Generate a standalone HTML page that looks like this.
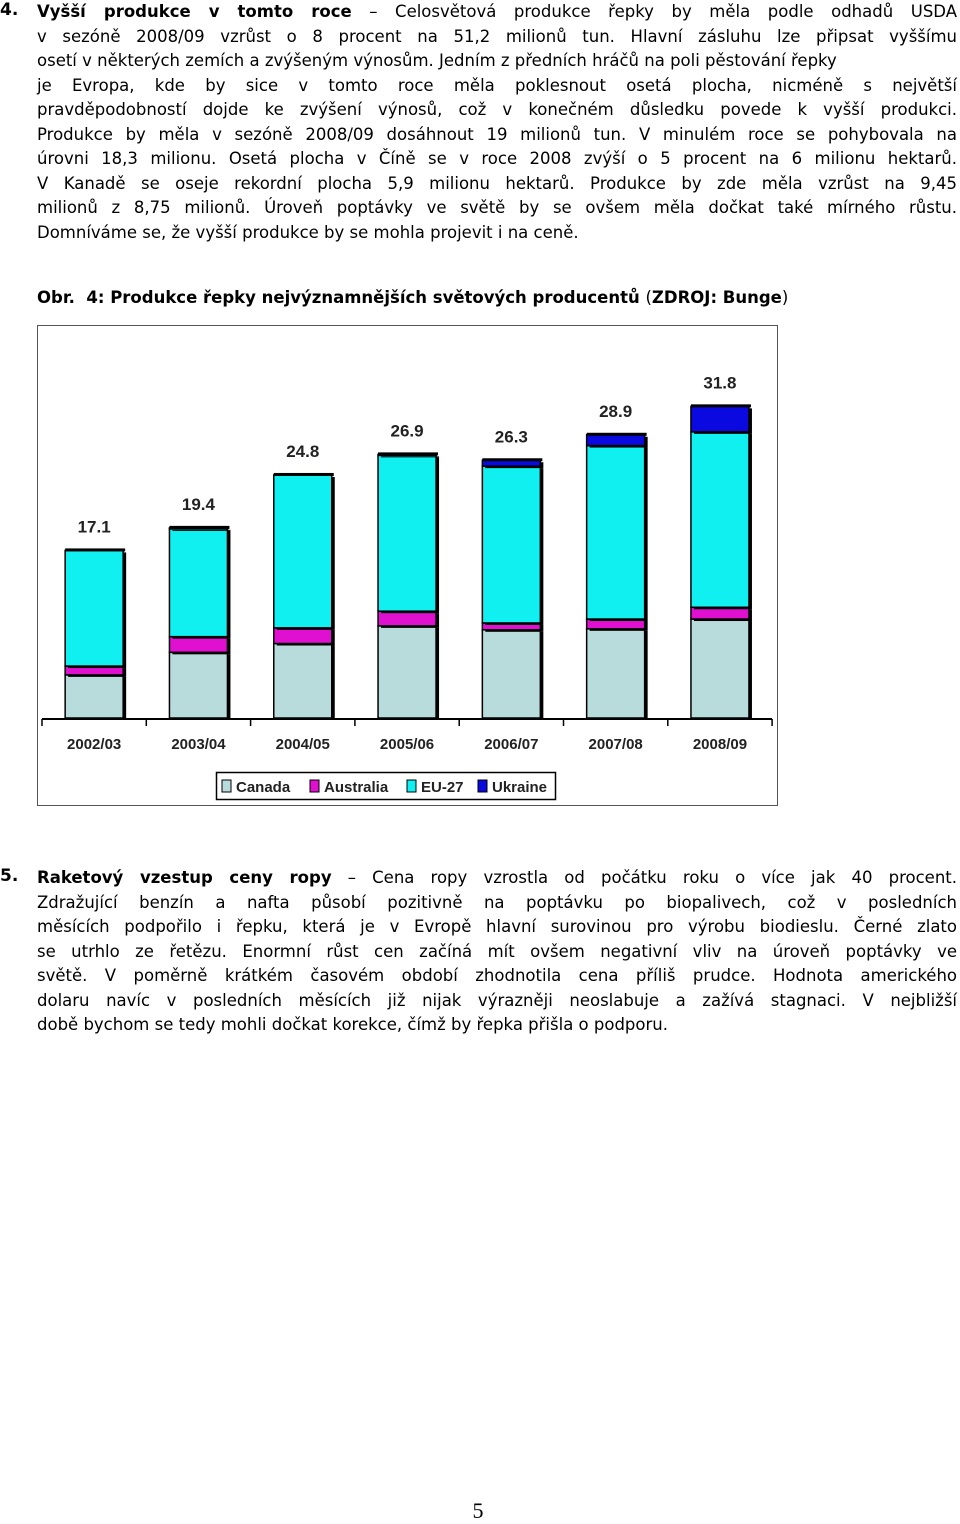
<!DOCTYPE html>
<html><head><meta charset="utf-8">
<style>
body{margin:0;width:960px;height:1523px;background:#fff;position:relative;overflow:hidden;font-family:"DejaVu Sans","Liberation Sans",sans-serif;color:#000}
.num{position:absolute;left:0;font-size:17px;font-weight:bold}
.para{position:absolute;left:37px;width:920px;font-size:16.5px;line-height:24.5px}
.ln{white-space:nowrap;text-align:justify;text-align-last:justify;height:24.5px;overflow:visible}
.ln.last{text-align-last:left}
b{font-weight:bold}
</style></head><body>
<div class="num" style="top:0">4.</div>
<div class="para" style="top:0">
<div class="ln"><b>Vyšší produkce v tomto roce</b> – Celosvětová produkce řepky by měla podle odhadů USDA</div>
<div class="ln">v sezóně 2008/09 vzrůst o 8 procent na 51,2 milionů tun. Hlavní zásluhu lze připsat vyššímu</div>
<div class="ln last">osetí v některých zemích a zvýšeným výnosům. Jedním z předních hráčů na poli pěstování řepky</div>
<div class="ln">je Evropa, kde by sice v tomto roce měla poklesnout osetá plocha, nicméně s největší</div>
<div class="ln">pravděpodobností dojde ke zvýšení výnosů, což v konečném důsledku povede k vyšší produkci.</div>
<div class="ln">Produkce by měla v sezóně 2008/09 dosáhnout 19 milionů tun. V minulém roce se pohybovala na</div>
<div class="ln">úrovni 18,3 milionu. Osetá plocha v Číně se v roce 2008 zvýší o 5 procent na 6 milionu hektarů.</div>
<div class="ln">V Kanadě se oseje rekordní plocha 5,9 milionu hektarů. Produkce by zde měla vzrůst na 9,45</div>
<div class="ln">milionů z 8,75 milionů. Úroveň poptávky ve světě by se ovšem měla dočkat také mírného růstu.</div>
<div class="ln last">Domníváme se, že vyšší produkce by se mohla projevit i na ceně.</div>
</div>
<div class="para" style="top:286px;font-weight:bold">Obr.&nbsp; 4: Produkce řepky nejvýznamnějších světových producentů <span style="font-weight:normal">(</span>ZDROJ: Bunge<span style="font-weight:normal">)</span></div>

<svg style="position:absolute;left:0;top:0" width="960" height="820">
<rect x="37.5" y="325.5" width="740" height="480" fill="#fff" stroke="#555" stroke-width="1"/>
<g id="bars"></g>
<line x1="42" y1="719" x2="772" y2="719" stroke="#000" stroke-width="2"/>
<g id="ticks"></g>
<g>
<rect x="216.5" y="772.5" width="339" height="27" fill="#fff" stroke="#000" stroke-width="1.5"/>
<g id="legend"></g>
</g>
</svg>

<div class="num" style="top:866px">5.</div>
<div class="para" style="top:866px">
<div class="ln"><b>Raketový vzestup ceny ropy</b> – Cena ropy vzrostla od počátku roku o více jak 40 procent.</div>
<div class="ln">Zdražující benzín a nafta působí pozitivně na poptávku po biopalivech, což v posledních</div>
<div class="ln">měsících podpořilo i řepku, která je v Evropě hlavní surovinou pro výrobu biodieslu. Černé zlato</div>
<div class="ln">se utrhlo ze řetězu. Enormní růst cen začíná mít ovšem negativní vliv na úroveň poptávky ve</div>
<div class="ln">světě. V poměrně krátkém časovém období zhodnotila cena příliš prudce. Hodnota amerického</div>
<div class="ln">dolaru navíc v posledních měsících již nijak výrazněji neoslabuje a zažívá stagnaci. V nejbližší</div>
<div class="ln last">době bychom se tedy mohli dočkat korekce, čímž by řepka přišla o podporu.</div>
</div>
<div style="position:absolute;left:0;width:956px;top:1498px;text-align:center;font-family:'Liberation Serif',serif;font-size:22px">5</div>

<script>
const categories=["2002/03","2003/04","2004/05","2005/06","2006/07","2007/08","2008/09"];
const canada=[4.4,6.7,7.6,9.4,9.0,9.1,10.1];
const australia=[0.9,1.6,1.6,1.5,0.7,1.0,1.2];
const eu27=[11.8,11.0,15.6,15.9,16.0,17.7,17.9];
const ukraine=[0.0,0.1,0.0,0.1,0.6,1.1,2.6];
const totals=["17.1","19.4","24.8","26.9","26.3","28.9","31.8"];
const seriesNames=["Canada","Australia","EU-27","Ukraine"];
const colors=["#b8dcdc","#e010d0","#10f0f0","#0a0ae0"];
const NS="http://www.w3.org/2000/svg";
const base=718, pxPerUnit=9.8, x0=42, step=104.3, bw=58;
const yS=v=>v*pxPerUnit;
const xC=i=>x0+step*(i+0.5);
function mk(tag,attrs,parent){const e=document.createElementNS(NS,tag);for(const k in attrs)e.setAttribute(k,attrs[k]);parent.appendChild(e);return e;}
const gb=document.getElementById('bars');
const series=[canada,australia,eu27,ukraine];
categories.forEach((c,i)=>{
  let acc=0;const x=xC(i)-bw/2;
  series.forEach((s,k)=>{
    const h=yS(s[i]);
    if(h<=0){return;}
    const y=base-yS(acc)-h;
    mk('rect',{x:x+3,y:y+2,width:bw,height:h,fill:'#000'},gb);
    const r=mk('rect',{x:x,y:y,width:bw,height:h,fill:colors[k],stroke:'#000','stroke-width':1.5},gb);
    
    
    acc+=s[i];
  });
  const top=base-yS(acc);
  mk('rect',{x:x,y:top-2,width:bw+2,height:3,fill:'#000'},gb);
  const t=mk('text',{x:xC(i),y:top-18,'text-anchor':'middle','font-family':'Liberation Sans, sans-serif','font-weight':'bold','font-size':17,fill:'#222'},gb);
  t.textContent=totals[i];
  
  
});
const gt=document.getElementById('ticks');
for(let i=0;i<=categories.length;i++){mk('line',{x1:x0+step*i,y1:719,x2:x0+step*i,y2:726,stroke:'#000','stroke-width':1.5},gt);}
categories.forEach((c,i)=>{
  const t=mk('text',{x:xC(i),y:749,'text-anchor':'middle','font-family':'Liberation Sans, sans-serif','font-weight':'bold','font-size':15,fill:'#222'},gt);
  t.textContent=c;
  
  
});
const gl=document.getElementById('legend');
const lx=[222,310,407,478];
seriesNames.forEach((n,k)=>{
  const s=mk('rect',{x:lx[k],y:780,width:9,height:12,fill:colors[k],stroke:'#000','stroke-width':1},gl);
  
  
  const t=mk('text',{x:lx[k]+14,y:792,'font-family':'Liberation Sans, sans-serif','font-weight':'bold','font-size':15,fill:'#222'},gl);
  t.textContent=n;
  
  
});
</script>
</body></html>
